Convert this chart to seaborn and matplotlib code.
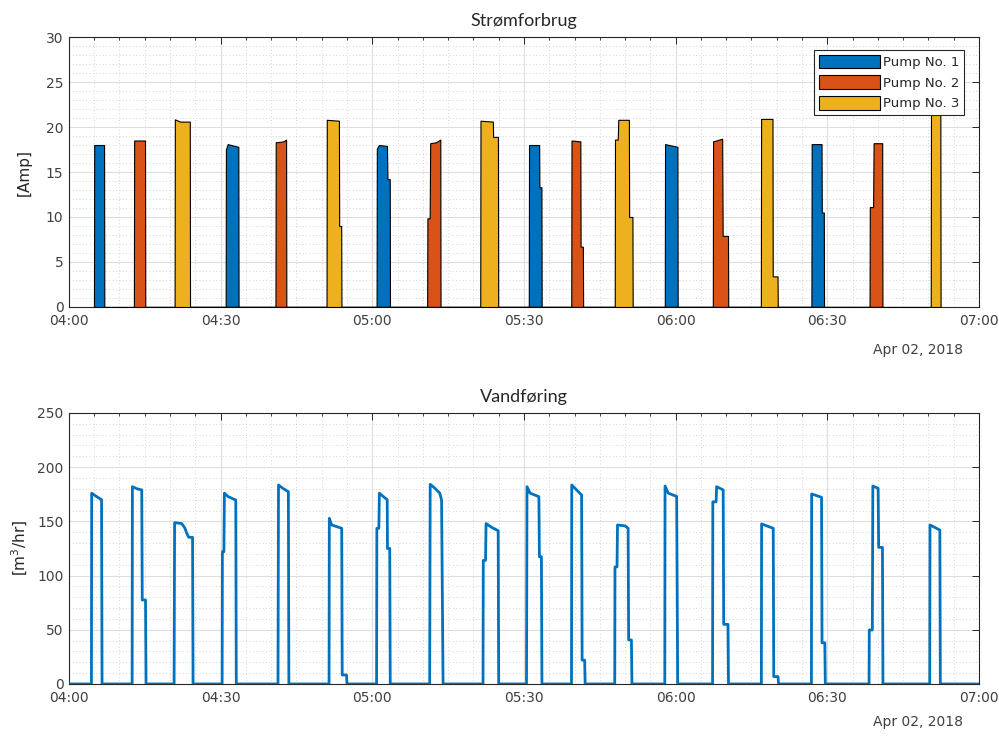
import numpy as np
import pandas as pd
import seaborn as sns
import matplotlib.pyplot as plt
import matplotlib.dates as mdates
from matplotlib.patches import Patch

# minutes after 04:00, pump currents [Amp]
pump1_t = [4.95, 5.0, 6.95, 7.0,
           31.0, 31.05, 31.4, 33.5, 33.55,
           60.85, 60.9, 61.3, 62.9, 63.0, 63.45, 63.5,
           90.95, 91.0, 93.0, 93.05, 93.45, 93.5,
           117.85, 117.9, 120.35, 120.4,
           146.85, 146.9, 148.85, 148.9, 149.3, 149.35]
pump1_a = [0, 18.0, 18.0, 0,
           0, 17.5, 18.1, 17.8, 0,
           0, 17.6, 18.0, 17.9, 14.2, 14.2, 0,
           0, 18.0, 18.0, 13.3, 13.3, 0,
           0, 18.1, 17.8, 0,
           0, 18.1, 18.1, 10.5, 10.5, 0]

pump2_t = [12.85, 12.9, 15.05, 15.1,
           40.85, 40.9, 42.4, 42.95, 43.0,
           70.85, 70.9, 71.35, 71.45, 72.6, 73.45, 73.5,
           99.35, 99.4, 101.15, 101.2, 101.65, 101.7,
           127.35, 127.4, 129.2, 129.3, 130.35, 130.4,
           158.35, 158.4, 159.05, 159.15, 160.85, 160.9]
pump2_a = [0, 18.5, 18.5, 0,
           0, 18.3, 18.4, 18.6, 0,
           0, 9.85, 9.85, 18.2, 18.3, 18.6, 0,
           0, 18.5, 18.4, 6.7, 6.7, 0,
           0, 18.4, 18.7, 7.9, 7.9, 0,
           0, 11.1, 11.1, 18.2, 18.2, 0]

pump3_t = [20.9, 20.95, 22.0, 23.9, 23.95,
           50.95, 51.0, 53.4, 53.45, 53.85, 53.9,
           81.35, 81.4, 83.85, 83.9, 84.85, 84.9,
           107.95, 108.0, 108.55, 108.65, 110.75, 110.8, 111.45, 111.5,
           136.85, 136.9, 139.15, 139.2, 140.15, 140.2,
           170.45, 170.5, 172.35, 172.4]
pump3_a = [0, 20.85, 20.6, 20.6, 0,
           0, 20.8, 20.7, 9.0, 9.0, 0,
           0, 20.7, 20.6, 18.9, 18.9, 0,
           0, 18.6, 18.6, 20.8, 20.8, 10.0, 10.0, 0,
           0, 20.9, 20.9, 3.4, 3.4, 0,
           0, 21.6, 21.6, 0]

# minutes after 04:00, flow [m3/hr]
flow_t = [0,
          4.45, 4.5, 5.5, 6.45, 6.55,
          12.5, 12.55, 13.5, 14.4, 14.5, 15.15, 15.25,
          20.8, 20.9, 22.3, 22.9, 23.45, 23.7, 24.45, 24.55,
          30.3, 30.35, 30.65, 30.75, 31.5, 33.0, 33.1,
          41.35, 41.45, 42.3, 43.4, 43.5,
          51.45, 51.5, 51.95, 53.95, 54.05, 54.9, 55.0,
          60.85, 60.9, 61.3, 61.4, 62.2, 62.95, 63.0, 63.45, 63.55,
          71.35, 71.45, 72.4, 73.35, 73.7, 74.0,
          81.9, 81.95, 82.4, 82.5, 83.6, 84.9, 85.0,
          90.5, 90.6, 91.2, 92.95, 93.05, 93.45, 93.55,
          99.4, 99.45, 100.75, 101.4, 101.5, 102.0, 102.1,
          107.95, 108.0, 108.4, 108.5, 110.0, 110.6, 110.7, 111.25, 111.35,
          117.85, 117.9, 118.55, 120.2, 120.4,
          127.3, 127.35, 128.0, 128.1, 129.4, 129.5, 130.35, 130.45,
          136.95, 137.0, 139.3, 139.4, 140.25, 140.35,
          146.85, 146.9, 148.85, 148.95, 149.5, 149.6,
          158.25, 158.3, 158.9, 159.0, 160.05, 160.15, 160.9, 161.0,
          170.25, 170.3, 172.25, 172.35,
          180]
flow_q = [0,
          0, 176, 172.8, 170, 0,
          0, 182, 180, 179, 77.5, 77.5, 0,
          0, 148.8, 148, 144, 137.5, 135.3, 135.3, 0,
          0, 122, 122, 176, 172.8, 169.7, 0,
          0, 183.6, 180.5, 177.4, 0,
          0, 152.8, 146.7, 143.6, 8.3, 8.3, 0,
          0, 143.6, 143.6, 176, 172.8, 170, 125, 125, 0,
          0, 184.2, 180.5, 176, 169.7, 0,
          0, 114, 114, 148, 144.5, 141.4, 0,
          0, 182, 176, 172.8, 117.4, 117.4, 0,
          0, 183.6, 177.4, 174.3, 22, 22, 0,
          0, 108, 108, 146.7, 145.8, 143.6, 40.6, 40.6, 0,
          0, 182.6, 176, 173, 0,
          0, 168, 168, 182, 179, 55, 55, 0,
          0, 147.6, 143.6, 6.8, 6.8, 0,
          0, 175.3, 172.2, 38, 38, 0,
          0, 49.8, 49.8, 182.6, 180.5, 126, 126, 0,
          0, 146.7, 142, 0,
          0]

pump_labels = ['Pump No. 1', 'Pump No. 2', 'Pump No. 3']
pump_colors = ['#0072BD', '#D95319', '#EDB120']

start = pd.Timestamp('2018-04-02 04:00')
def to_time(m):
    return start + pd.to_timedelta(np.array(m, dtype=float), unit='m')

sns.set_style('white')
plt.rcParams['font.family'] = ['DejaVu Sans']

fig = plt.figure(figsize=(9.99, 7.36), dpi=100)
ax1 = fig.add_axes([0.069, 0.5829, 0.911, 0.3668])
ax2 = fig.add_axes([0.069, 0.0707, 0.911, 0.3682])

# area plot of pump currents
for t, a, c in zip([pump1_t, pump2_t, pump3_t], [pump1_a, pump2_a, pump3_a], pump_colors):
    ax1.fill_between(to_time(t), a, 0, facecolor=c, edgecolor='black', linewidth=0.8, zorder=3)

flow = pd.DataFrame({'time': to_time(flow_t), 'flow': flow_q})
sns.lineplot(data=flow, x='time', y='flow', ax=ax2, color='#0072BD', linewidth=2, zorder=3)

for ax, ymax, ymaj, ymin in [(ax1, 30, 5, 1), (ax2, 250, 50, 10)]:
    ax.set_xlim(start, start + pd.Timedelta(minutes=180))
    ax.set_ylim(0, ymax)
    ax.xaxis.set_major_locator(mdates.MinuteLocator(byminute=[0, 30]))
    ax.xaxis.set_minor_locator(mdates.MinuteLocator(byminute=range(0, 60, 5)))
    ax.xaxis.set_major_formatter(mdates.DateFormatter('%H:%M'))
    ax.yaxis.set_major_locator(plt.MultipleLocator(ymaj))
    ax.yaxis.set_minor_locator(plt.MultipleLocator(ymin))
    ax.grid(which='major', color='#dedede', linewidth=0.8, linestyle='-')
    ax.grid(which='minor', color='#c8c8c8', linewidth=0.6, linestyle=(0, (1, 3)))
    ax.set_axisbelow(True)
    ax.tick_params(which='both', direction='in', top=True, right=True,
                   labelsize=10, labelcolor='#404040', color='#262626')
    ax.tick_params(which='major', length=5, width=0.7)
    ax.tick_params(which='minor', length=2.5, width=0.6)
    ax.tick_params(axis='y', which='minor', length=0)
    ax.tick_params(axis='y', pad=4)
    ax.tick_params(axis='x', pad=5)
    for s in ax.spines.values():
        s.set_color('#262626')
        s.set_linewidth(0.8)
    ax.set_xlabel('')

ax1.text(0.982, -0.159, 'Apr 02, 2018', transform=ax1.transAxes, ha='right', va='center',
         fontsize=10, color='#404040')
ax2.text(0.982, -0.14, 'Apr 02, 2018', transform=ax2.transAxes, ha='right', va='center',
         fontsize=10, color='#404040')

ax1.set_ylabel('[Amp]', fontsize=11, color='#262626', labelpad=10)
ax2.set_ylabel('[m$^3$/hr]', fontsize=11, color='#262626', labelpad=5)
ax1.set_title('Strømforbrug', fontsize=13, family='Lato', pad=8)
ax2.set_title('Vandføring', fontsize=13, family='Lato', pad=8)

handles = [Patch(facecolor=c, edgecolor='black', linewidth=0.8) for c in pump_colors]
leg = ax1.legend(handles, pump_labels, loc='upper right', bbox_to_anchor=(0.9835, 0.952),
                 fontsize=9.5, frameon=True, fancybox=False, framealpha=1, edgecolor='#262626',
                 handlelength=4.6, handleheight=1.2, handletextpad=0.25, labelspacing=0.5,
                 borderpad=0.35, borderaxespad=0)
leg.get_frame().set_linewidth(0.8)
leg.set_zorder(5)

fig.savefig('out.png', dpi=100)
